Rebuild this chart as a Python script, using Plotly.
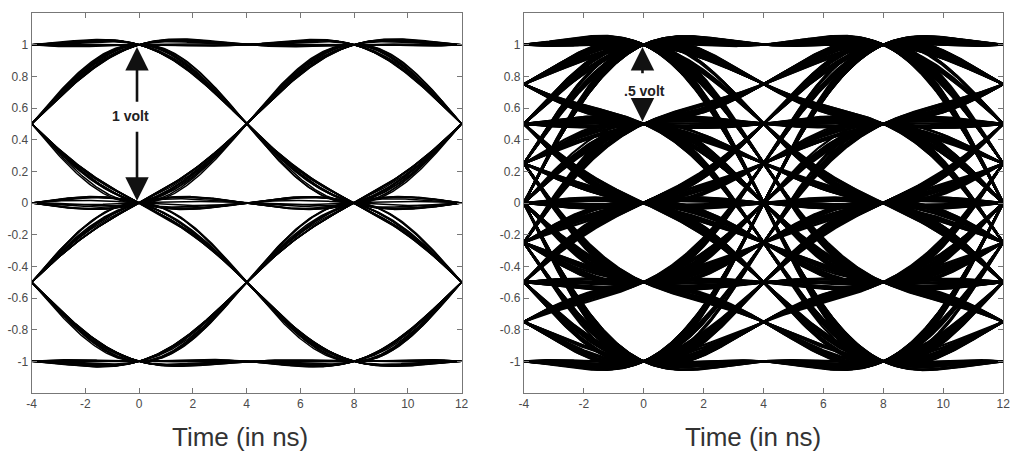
import numpy as np
import plotly.graph_objects as go

# ---------------- data ----------------
SYMBOL_PERIOD_NS = 8.0
X_TICKS = [-4, -2, 0, 2, 4, 6, 8, 10, 12]
X_TICK_LABELS = ["-4", "-2", "0", "2", "4", "6", "8", "10", "12"]
Y_TICKS = [-1, -0.8, -0.6, -0.4, -0.2, 0, 0.2, 0.4, 0.6, 0.8, 1]
Y_TICK_LABELS = ["-1", "-0.8", "-0.6", "-0.4", "-0.2", "0", "0.2", "0.4", "0.6", "0.8", "1"]

# left panel: 3-level (duobinary-like) symbol sequence, adjacent-level transitions only
LEFT_LEVELS = [1, 1, 1, 0, 0, -1, -1, -1, 0, 1, 1, 0, -1, 0, 0, 0, 1, 0, -1, -1,
               0, 1, 1, 1, 1, 0, 0, 1, 0, 0, -1, -1, 0, -1, -1, -1, 0, 0, 1, 1,
               0, 1, 0, -1, 0, 1, 0, 0, -1, 0, -1, -1, 0, 1, 1, 1, 0, -1, -1, 0,
               0, 1, 1, 1, 0, 0, 0, -1, -1, -1, -1, 0, 1, 0, 1, 1, 0, -1, 0, -1,
               0, 0, 1, 1, 0, 0, -1, -1, 0, 1, 1, 0, -1, -1, 0, 0, 1, 0, 1, 1]

# right panel: 5-level symbol sequence (indices into RIGHT_LEVEL_VALUES)
RIGHT_LEVEL_VALUES = [-1.0, -0.5, 0.0, 0.5, 1.0]
RIGHT_SYMBOLS = ("40312440213300421143320144012340022413310432041122"
                 "34400312241103342002144330114320241334001223140432"
                 "10442330241120034412302114403322401314420031243110"
                 "22431044013320423411024300431122344021033140224401"
                 "13342204311402340012443320110432214300341123024413"
                 "02413340122043104432011342240301142330224104312004"
                 "31120443302141002334411320043221401334210043312240"
                 "44012231340220413341004223144031120344210213302441"
                 "20334110423002144132203431104422013340241120433210"
                 "01442213304412003321140243310024413220143302411034")

X_TITLE = "Time (in ns)"
LEFT_LABEL = "1 volt"
RIGHT_LABEL = ".5 volt"


# ---------------- eye-diagram construction ----------------
def rc_pulse(t, T):
    """Full-roll-off raised-cosine pulse."""
    x = 2.0 * t / T
    den = 1.0 - x ** 2
    sing = np.abs(den) < 1e-9
    return np.where(sing, 0.5, np.sinc(x) / np.where(sing, 1.0, den))


def eye_xy(levels, T):
    tau = np.linspace(-4, 12, 321)
    xs, ys = [], []
    n = len(levels)
    for k in range(2, n - 3):
        s = np.zeros_like(tau)
        for j in range(max(0, k - 6), min(n, k + 8)):
            s += levels[j] * rc_pulse(tau - (j - k) * T, T)
        xs.extend(tau.tolist() + [None])
        ys.extend(s.tolist() + [None])
    return xs, ys


lx, ly = eye_xy(LEFT_LEVELS, SYMBOL_PERIOD_NS)
right_levels = [RIGHT_LEVEL_VALUES[int(c)] for c in RIGHT_SYMBOLS]
rx, ry = eye_xy(right_levels, SYMBOL_PERIOD_NS)

fig = go.Figure()
fig.add_trace(go.Scatter(x=lx, y=ly, mode="lines", xaxis="x", yaxis="y",
                         line=dict(color="black", width=1.5), hoverinfo="skip",
                         showlegend=False))
fig.add_trace(go.Scatter(x=rx, y=ry, mode="lines", xaxis="x2", yaxis="y2",
                         line=dict(color="black", width=2.2), hoverinfo="skip",
                         showlegend=False))

W, H = 1024, 457


def px(p):
    return p / W


def py(p):
    return 1 - p / H


axis_common = dict(showline=True, linecolor="#777", linewidth=1, mirror="ticks",
                   ticks="inside", ticklen=5, tickcolor="#777", showgrid=False,
                   zeroline=False,
                   tickfont=dict(family="Liberation Sans, Arial", size=12, color="#4a4a4a"))

ydom = [py(393), py(13)]
fig.update_layout(
    width=W, height=H, margin=dict(l=0, r=0, t=0, b=0),
    paper_bgcolor="white", plot_bgcolor="white", showlegend=False,
    xaxis=dict(domain=[px(27), px(462)], range=[-4, 12], anchor="y",
               tickvals=X_TICKS, ticktext=X_TICK_LABELS, **axis_common),
    yaxis=dict(domain=ydom, range=[-1.2, 1.2], anchor="x",
               tickvals=Y_TICKS, ticktext=Y_TICK_LABELS, **axis_common),
    xaxis2=dict(domain=[px(525), px(1010)], range=[-4, 12], anchor="y2",
                tickvals=X_TICKS, ticktext=X_TICK_LABELS, **axis_common),
    yaxis2=dict(domain=ydom, range=[-1.2, 1.2], anchor="x2",
                tickvals=Y_TICKS, ticktext=Y_TICK_LABELS, **axis_common),
)

anns = []
label_font = dict(family="Liberation Sans, Arial", size=14, color="#222")
arrow_style = dict(text="", showarrow=True, arrowhead=2, arrowsize=1.8,
                   arrowwidth=2.6, arrowcolor="#111")
# left panel arrow + label
anns.append(dict(x=-0.34, y=0.55, xref="x", yref="y", text="<b>%s</b>" % LEFT_LABEL,
                 showarrow=False, font=label_font))
for tip, tail in [(0.985, 0.63), (0.015, 0.46)]:
    anns.append(dict(x=-0.08, y=tip, ax=-0.08, ay=tail, xref="x", yref="y",
                     axref="x", ayref="y", **arrow_style))
# right panel arrow + label
anns.append(dict(x=0.04, y=0.71, xref="x2", yref="y2", text="<b>%s</b>" % RIGHT_LABEL,
                 showarrow=False, font=label_font))
for tip, tail in [(0.985, 0.81), (0.515, 0.64)]:
    anns.append(dict(x=-0.04, y=tip, ax=-0.04, ay=tail, xref="x2", yref="y2",
                     axref="x2", ayref="y2", **arrow_style))
# axis titles
title_font = dict(family="Liberation Sans, Arial", size=26, color="#333")
for xc in (237.5, 757):
    anns.append(dict(x=px(xc), y=py(437), xref="paper", yref="paper",
                     text=X_TITLE, showarrow=False, font=title_font,
                     xanchor="center", yanchor="middle"))
fig.update_layout(annotations=anns)

fig.write_html("out.html", config={"displayModeBar": False},
               post_script="document.body.style.margin='0';document.body.style.overflow='hidden';")
